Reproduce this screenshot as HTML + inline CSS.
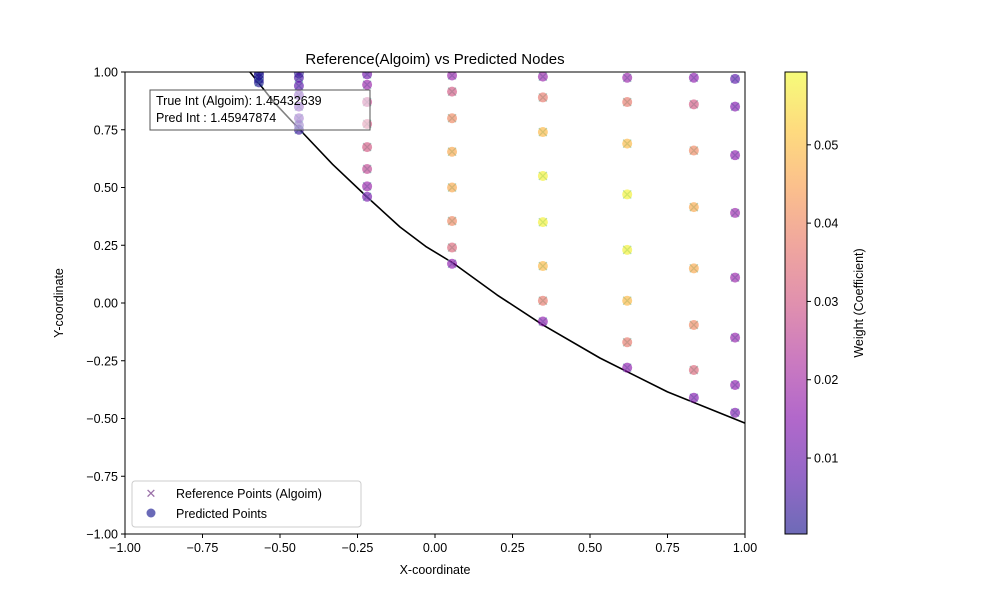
<!DOCTYPE html>
<html><head><meta charset="utf-8"><style>
body{margin:0;background:#fff;}
svg{display:block;font-family:"Liberation Sans","DejaVu Sans",sans-serif;}
</style></head><body>
<svg id="chart" width="1000" height="600" xmlns="http://www.w3.org/2000/svg">
<defs>
<linearGradient id="plasma" x1="0" y1="1" x2="0" y2="0">
<stop offset="0" stop-color="#0d0887"/><stop offset="0.125" stop-color="#4c02a1"/><stop offset="0.25" stop-color="#7e03a8"/><stop offset="0.375" stop-color="#a82296"/><stop offset="0.5" stop-color="#cc4778"/><stop offset="0.625" stop-color="#e56b5d"/><stop offset="0.75" stop-color="#f89540"/><stop offset="0.875" stop-color="#fdc328"/><stop offset="1" stop-color="#f0f921"/>
</linearGradient>
<clipPath id="clip"><rect x="125" y="72" width="620" height="462"/></clipPath>
</defs>
<text x="435" y="64" font-size="15" text-anchor="middle">Reference(Algoim) vs Predicted Nodes</text>
<g id="axes"></g>
<g id="marks" clip-path="url(#clip)"></g>
<rect x="125" y="72" width="620" height="462" fill="none" stroke="#000" stroke-width="1"/>
<g>
<rect x="150" y="90" width="220" height="40" fill="#fff" fill-opacity="0.5" stroke="#555" stroke-width="1"/>
<text x="156" y="105" font-size="12.5">True Int (Algoim): 1.45432639</text>
<text x="156" y="122" font-size="12.5">Pred Int : 1.45947874</text>
</g>
<g>
<rect x="132" y="481" width="229" height="46" rx="3" fill="#fff" fill-opacity="0.8" stroke="#ccc"/>
<text x="151" y="498" font-size="13" fill="#9a70a8" text-anchor="middle">✕</text>
<text x="176" y="498" font-size="12.5">Reference Points (Algoim)</text>
<circle cx="151" cy="513" r="4.5" fill="#6a6ab8"/>
<text x="176" y="518" font-size="12.5">Predicted Points</text>
</g>
<rect x="785" y="72" width="22" height="462" fill="url(#plasma)" opacity="0.6"/>
<rect x="785" y="72" width="22" height="462" fill="none" stroke="#000" stroke-width="1"/>
<g id="cbticks"></g>
<text transform="translate(863,303) rotate(-90)" font-size="12.5" text-anchor="middle">Weight (Coefficient)</text>
<text x="435" y="574" font-size="12.5" text-anchor="middle">X-coordinate</text>
<text transform="translate(63,303) rotate(-90)" font-size="12.5" text-anchor="middle">Y-coordinate</text>
</svg>
<script>
const xTicks=[-1,-0.75,-0.5,-0.25,0,0.25,0.5,0.75,1];
const yTicks=[-1,-0.75,-0.5,-0.25,0,0.25,0.5,0.75,1];
const cbTicks=[0.01,0.02,0.03,0.04,0.05];
const colX=[-0.568,-0.439,-0.219,0.055,0.348,0.62,0.835,0.968];
const colY=[
[0.995,0.985,0.97,0.955],
[0.995,0.975,0.94,0.9,0.85,0.8,0.77,0.75],
[0.99,0.945,0.87,0.775,0.675,0.58,0.505,0.46],
[0.985,0.915,0.80,0.655,0.50,0.355,0.24,0.17],
[0.98,0.89,0.74,0.55,0.35,0.16,0.01,-0.08],
[0.975,0.87,0.69,0.47,0.23,0.01,-0.17,-0.28],
[0.975,0.86,0.66,0.415,0.15,-0.095,-0.29,-0.41],
[0.97,0.85,0.64,0.39,0.11,-0.15,-0.355,-0.475]];
const colW=[
[0.001,0.002,0.002,0.001],
[0.004,0.006,0.008,0.009,0.009,0.008,0.006,0.004],
[0.012,0.018,0.027,0.03,0.03,0.026,0.018,0.012],
[0.018,0.03,0.04,0.046,0.046,0.04,0.033,0.016],
[0.018,0.037,0.049,0.058,0.058,0.049,0.037,0.016],
[0.018,0.037,0.049,0.058,0.058,0.049,0.037,0.016],
[0.016,0.03,0.04,0.046,0.046,0.04,0.033,0.014],
[0.008,0.014,0.016,0.018,0.018,0.017,0.016,0.013]];
const curveX=[-0.597,-0.52,-0.435,-0.33,-0.219,-0.113,-0.03,0.058,0.2,0.348,0.532,0.75,1];
const curveY=[1,0.87,0.749,0.6,0.459,0.329,0.245,0.173,0.035,-0.095,-0.238,-0.385,-0.52];
const NS='http://www.w3.org/2000/svg';
const sx=v=>125+(v+1)*310, sy=v=>534-(v+1)*231;
const wMin=0.0003,wMax=0.0593;
const cy=w=>534-(w-wMin)/(wMax-wMin)*462;
const stops=[[13,8,135],[76,2,161],[126,3,168],[168,34,150],[204,71,120],[229,107,93],[248,149,64],[253,195,40],[240,249,33]];
function cmap(w){let t=Math.max(0,Math.min(1,(w-wMin)/(wMax-wMin)))*8;let i=Math.min(7,Math.floor(t)),f=t-i;const a=stops[i],b=stops[i+1];return 'rgb('+a.map((v,k)=>Math.round(v+(b[k]-v)*f)).join(',')+')';}
function mk(tag,attrs,parent,txt){const e=document.createElementNS(NS,tag);for(const k in attrs)e.setAttribute(k,attrs[k]);if(txt!==undefined)e.textContent=txt;parent.appendChild(e);return e;}
const ax=document.getElementById('axes');
xTicks.forEach(v=>{const x=sx(v);
mk('line',{x1:x,x2:x,y1:534,y2:538,stroke:'#000'},ax);
const t=mk('text',{x:x,y:552,'font-size':12.5,'text-anchor':'middle'},ax,v.toFixed(2).replace('-','−'));

});
yTicks.forEach(v=>{const y=sy(v);
mk('line',{x1:121,x2:125,y1:y,y2:y,stroke:'#000'},ax);
const t=mk('text',{x:118,y:y+4.5,'font-size':12.5,'text-anchor':'end'},ax,v.toFixed(2).replace('-','−'));

});
const cb=document.getElementById('cbticks');
cbTicks.forEach(v=>{const y=cy(v);
mk('line',{x1:807,x2:811,y1:y,y2:y,stroke:'#000'},cb);
const t=mk('text',{x:814,y:y+4.5,'font-size':12.5},cb,v.toFixed(2));

});
const m=document.getElementById('marks');
let d='';curveX.forEach((v,i)=>{d+=(i?'L':'M')+sx(v).toFixed(1)+','+sy(curveY[i]).toFixed(1);});
const c=mk('path',{d:d,fill:'none',stroke:'#000','stroke-width':1.6,'stroke-linejoin':'round'},m);


colX.forEach((xv,ci)=>{colY[ci].forEach((yv,j)=>{
const x=sx(xv),y=sy(yv),col=cmap(colW[ci][j]);
const p=mk('path',{d:`M${x-4},${y-4}L${x+4},${y+4}M${x-4},${y+4}L${x+4},${y-4}`,stroke:'#7fc9b8','stroke-width':1.3,opacity:0.7},m);


const q=mk('circle',{cx:x,cy:y,r:5,fill:col,'fill-opacity':0.6},m);


});});
</script>
</body></html>
